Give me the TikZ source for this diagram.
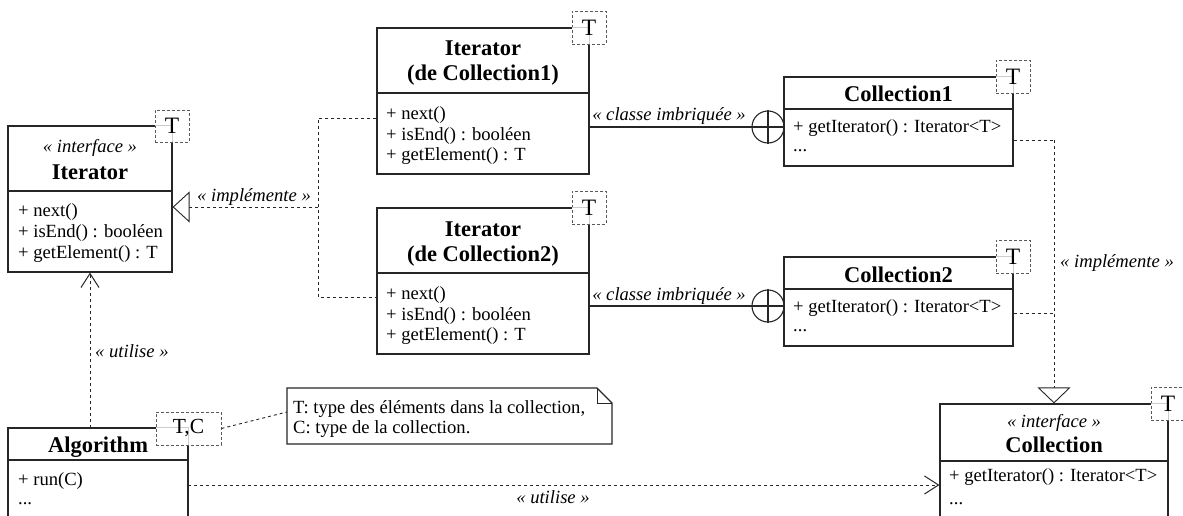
\documentclass[tikz,border=0pt]{standalone}
\usepackage{fontspec}
\setmainfont{Liberation Serif}
\usetikzlibrary{arrows.meta}
\newcommand\regf{\fontsize{18.6}{20.5}\selectfont}
\newcommand\boldf{\fontsize{22.5}{27}\selectfont\bfseries}
\newcommand\itf{\fontsize{18.6}{20.5}\selectfont\itshape}
\newcommand\tf{\fontsize{23.5}{25}\selectfont}
\begin{document}
\begin{tikzpicture}[x=1pt,y=-1pt,
  cls/.style={draw=black!85, line width=1.2pt, rectangle, inner sep=0pt},
  divline/.style={draw=black!85, line width=1.6pt},
  tbox/.style={draw=black!65, dash pattern=on 3pt off 2pt, fill=white, line width=0.9pt, rectangle, inner sep=0pt},
  hid/.style={draw=black!20, line width=1.2pt},
  conn/.style={draw=black!85, line width=0.9pt, dash pattern=on 3pt off 3pt},
  solidconn/.style={draw=black!85, line width=1.1pt},
  mline/.style={anchor=base west, inner sep=0pt, font=\regf},
  ttl/.style={anchor=base, inner sep=0pt, font=\boldf},
  ster/.style={anchor=base, inner sep=0pt, font=\itf},
  lbl/.style={inner sep=0pt, font=\itf},
  tlab/.style={inner sep=0pt, font=\tf},
  nest/.style={circle, draw=black!85, line width=1.1pt, minimum size=32pt, inner sep=0pt},
  realiz/.style={-{Triangle[open,length=17pt,width=31pt,fill=white]}},
  dep/.style={-{Straight Barb[length=14pt,width=18pt,line width=1pt]}}
]
\useasboundingbox (0,0) rectangle (1183,516);
\clip (0,0) rectangle (1183,516);

% ---------------- Iterator (interface)
\node[cls, minimum width=164pt, minimum height=146pt] (iter) at (90,199) {};
\draw[divline] (8,191) -- (172,191);
\node[ster] (iterS) at (90,153) {« interface »};
\node[ttl] (iterT) at (90,179) {Iterator};
\node[mline] (iterM1) at (18,216.5) {+ next()};
\node[mline] (iterM2) at (18,237.5) {+ isEnd() : booléen};
\node[mline] (iterM3) at (18,258.5) {+ getElement() : T};
\node[tbox, minimum width=34pt, minimum height=32pt] (iterTB) at (172,126) {};
\draw[hid] (iterTB.west |- iter.north) -- (iter.north east) -- (iter.north east |- iterTB.south);
\node[tlab] (iterTBt) at (iterTB.center) {T};

% ---------------- Iterator (de Collection1)
\node[cls, minimum width=212pt, minimum height=146pt] (ic1) at (483,101) {};
\draw[divline] (377,93) -- (589,93);
\node[ttl] (ic1T1) at (483,56) {Iterator};
\node[ttl] (ic1T2) at (483,81) {(de Collection1)};
\node[mline] (ic1M1) at (386,119.5) {+ next()};
\node[mline] (ic1M2) at (386,140) {+ isEnd() : booléen};
\node[mline] (ic1M3) at (386,160.5) {+ getElement() : T};
\node[tbox, minimum width=34pt, minimum height=33pt] (ic1TB) at (589,27.5) {};
\draw[hid] (ic1TB.west |- ic1.north) -- (ic1.north east) -- (ic1.north east |- ic1TB.south);
\node[tlab] (ic1TBt) at (ic1TB.center) {T};

% ---------------- Iterator (de Collection2)
\node[cls, minimum width=212pt, minimum height=146pt] (ic2) at (483,281) {};
\draw[divline] (377,273) -- (589,273);
\node[ttl] (ic2T1) at (483,236) {Iterator};
\node[ttl] (ic2T2) at (483,261) {(de Collection2)};
\node[mline] (ic2M1) at (386,299.5) {+ next()};
\node[mline] (ic2M2) at (386,320) {+ isEnd() : booléen};
\node[mline] (ic2M3) at (386,340.5) {+ getElement() : T};
\node[tbox, minimum width=34pt, minimum height=33pt] (ic2TB) at (589,207.5) {};
\draw[hid] (ic2TB.west |- ic2.north) -- (ic2.north east) -- (ic2.north east |- ic2TB.south);
\node[tlab] (ic2TBt) at (ic2TB.center) {T};

% ---------------- Collection1
\node[cls, minimum width=229pt, minimum height=89pt] (c1) at (898.5,121.5) {};
\draw[divline] (784,109) -- (1013,109);
\node[ttl] (c1T) at (898.5,102) {Collection1};
\node[mline] (c1M1) at (793,132.5) {+ getIterator() : Iterator<T>};
\node[mline] (c1M2) at (793,151.5) {...};
\node[tbox, minimum width=34pt, minimum height=33pt] (c1TB) at (1013,76.5) {};
\draw[hid] (c1TB.west |- c1.north) -- (c1.north east) -- (c1.north east |- c1TB.south);
\node[tlab] (c1TBt) at (c1TB.center) {T};

% ---------------- Collection2
\node[cls, minimum width=229pt, minimum height=89pt] (c2) at (898.5,301.5) {};
\draw[divline] (784,289) -- (1013,289);
\node[ttl] (c2T) at (898.5,282) {Collection2};
\node[mline] (c2M1) at (793,312.5) {+ getIterator() : Iterator<T>};
\node[mline] (c2M2) at (793,331.5) {...};
\node[tbox, minimum width=34pt, minimum height=33pt] (c2TB) at (1013,256.5) {};
\draw[hid] (c2TB.west |- c2.north) -- (c2.north east) -- (c2.north east |- c2TB.south);
\node[tlab] (c2TBt) at (c2TB.center) {T};

% ---------------- Collection (interface)
\node[cls, minimum width=228pt, minimum height=140pt] (coll) at (1054,474) {};
\draw[divline] (940,461) -- (1168,461);
\node[ster] (collS) at (1054,427) {« interface »};
\node[ttl] (collT) at (1054,452) {Collection};
\node[mline] (collM1) at (949,481.5) {+ getIterator() : Iterator<T>};
\node[mline] (collM2) at (949,504) {...};
\node[tbox, minimum width=34pt, minimum height=33pt] (collTB) at (1168,403.5) {};
\draw[hid] (collTB.west |- coll.north) -- (coll.north east) -- (coll.north east |- collTB.south);
\node[tlab] (collTBt) at (collTB.center) {T};

% ---------------- Algorithm
\node[cls, minimum width=180pt, minimum height=140pt] (alg) at (98,498) {};
\draw[divline] (8,460) -- (188,460);
\node[ttl] (algT) at (98,452.5) {Algorithm};
\node[mline] (algM1) at (18,485.5) {+ run(C)};
\node[mline] (algM2) at (18,504) {...};
\node[tbox, minimum width=65pt, minimum height=33pt] (algTB) at (188.5,428.5) {};
\draw[hid] (algTB.west |- alg.north) -- (alg.north east) -- (alg.north east |- algTB.south);
\node[tlab, font=\fontsize{21.5}{23}\selectfont] (algTBt) at (algTB.center) {T,C};

% ---------------- Note
\coordinate (nNW) at (287,388);
\coordinate (nF) at (597,388);
\coordinate (nFR) at (612,403);
\coordinate (nSE) at (612,444);
\coordinate (nSW) at (287,444);
\draw[draw=black!85, line width=1.1pt, fill=white] (nNW) -- (nF) -- (nFR) -- (nSE) -- (nSW) -- cycle;
\draw[draw=black!85, line width=1pt] (nF) -- (597,403) -- (nFR);
\node[mline] (noteL1) at (293,413) {T: type des éléments dans la collection,};
\node[mline] (noteL2) at (293,433) {C: type de la collection.};
\coordinate (noteAnc) at (287,412);
\draw[conn] (algTB.east) -- (noteAnc);

% ---------------- Realization: Iterator(de Ci) -> Iterator
\coordinate (jTop) at (318,118);
\coordinate (jMid) at (318,207);
\coordinate (jBot) at (318,297);
\draw[conn] (ic1.west |- jTop) -- (jTop) -- (jBot) -- (ic2.west |- jBot);
\draw[conn, realiz] (jMid) -- (iter.east |- jMid);
\node[lbl, anchor=base] (implL) at (254,201) {« implémente »};

% ---------------- Nested classes
\node[nest] (nest1) at (768,127) {};
\draw[solidconn] (nest1.north) -- (nest1.south) (nest1.west) -- (nest1.east);
\draw[solidconn] (ic1.east |- nest1.west) -- (nest1.west);
\node[lbl, anchor=base] (nestL1) at (669,121) {« classe imbriquée »};

\node[nest] (nest2) at (768,306) {};
\draw[solidconn] (nest2.north) -- (nest2.south) (nest2.west) -- (nest2.east);
\draw[solidconn] (ic2.east |- nest2.west) -- (nest2.west);
\node[lbl, anchor=base] (nestL2) at (669,300) {« classe imbriquée »};

% ---------------- Realization: Collection1/2 -> Collection
\coordinate (kTop) at (1054,140);
\coordinate (kMid) at (1054,313);
\draw[conn] (c1.east |- kTop) -- (kTop);
\draw[conn] (c2.east |- kMid) -- (kMid);
\draw[conn, -{Triangle[open,length=16pt,width=33pt,fill=white]}] (kTop) -- (coll.north);
\node[lbl, anchor=base west] (implR) at (1060,267) {« implémente »};

% ---------------- Uses
\coordinate (uA) at (90,428);
\draw[conn, dep] (uA) -- (iter.south -| uA);
\node[lbl, anchor=base west] (useL1) at (95,357) {« utilise »};

\coordinate (uB) at (188,485);
\draw[conn, dep] (uB) -- (coll.west |- uB);
\node[lbl, anchor=base] (useL2) at (553,503) {« utilise »};
\end{tikzpicture}
\end{document}
